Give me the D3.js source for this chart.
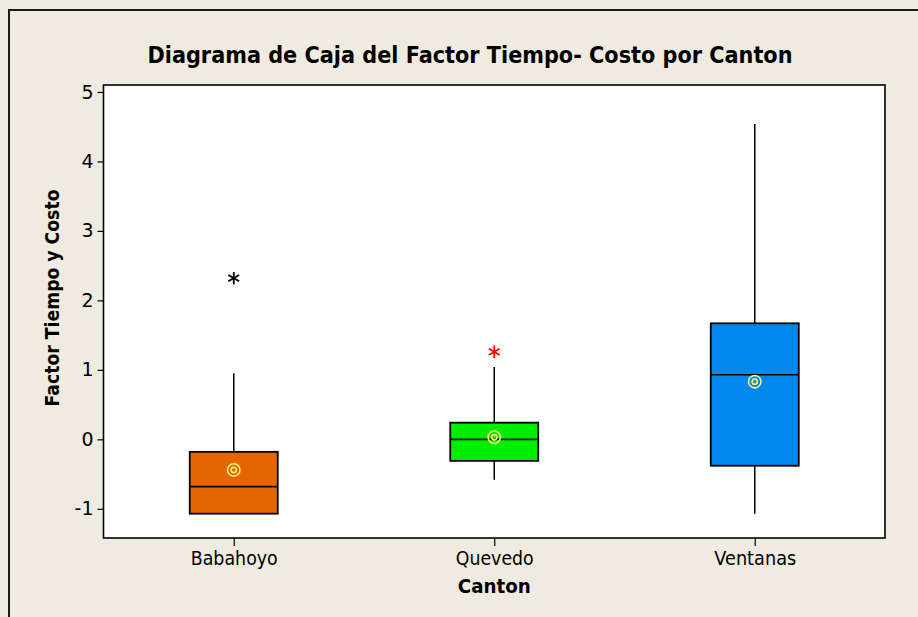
<!DOCTYPE html>
<html>
<head>
<meta charset="utf-8">
<script src="https://cdn.jsdelivr.net/npm/d3@7"></script>
<style>
  html, body { margin: 0; padding: 0; background: #EFEBE1; }
  svg { display: block; }
</style>
</head>
<body>
<svg id="chart" width="918" height="617"></svg>
<script>
// ---- data ----
const categories = ["Babahoyo", "Quevedo", "Ventanas"];
const q1         = [-1.07, -0.31, -0.38];
const median     = [-0.68,  0.00,  0.93];
const q3         = [-0.18,  0.24,  1.67];
const whiskerLow = [-1.07, -0.58, -1.07];
const whiskerHigh= [ 0.95,  1.04,  4.54];
const means      = [-0.44,  0.03,  0.83];
const outliers   = [[2.32], [1.26], []];
const boxColors  = ["#E56600", "#00EE00", "#0088EE"];
const outlierColors = ["#000000", "#FF0000", "#000000"];
const yTicks     = [-1, 0, 1, 2, 3, 4, 5];

const title  = "Diagrama de Caja del Factor Tiempo- Costo por Canton";
const xTitle = "Canton";
const yTitle = "Factor Tiempo y Costo";

// ---- layout ----
const W = 918, H = 617;
const plot = { left: 103.5, top: 85, right: 885, bottom: 538 };
const boxW = 88;

const svg = d3.select("#chart");

// background + outer frame
svg.append("rect").attr("width", W).attr("height", H).attr("fill", "#EFEBE1");
svg.append("path")
  .attr("d", `M9,${H} L9,10 L${W},10`)
  .attr("fill", "none").attr("stroke", "#1a1a1a").attr("stroke-width", 2);

const x = d3.scalePoint().domain(categories).range([plot.left, plot.right]).padding(0.5);
const y = d3.scaleLinear().domain([-1.42, 5.1]).range([plot.bottom, plot.top]);

// plot area
svg.append("rect")
  .attr("x", plot.left).attr("y", plot.top)
  .attr("width", plot.right - plot.left).attr("height", plot.bottom - plot.top)
  .attr("fill", "#ffffff").attr("stroke", "#000").attr("stroke-width", 1.6);

// axes
const font = "'DejaVu Sans', Verdana, sans-serif";
const yAxis = svg.append("g").attr("transform", `translate(${plot.left},0)`)
  .call(d3.axisLeft(y).tickValues(yTicks).tickSize(6).tickPadding(4).tickFormat(d => String(d)));
yAxis.select(".domain").remove();
yAxis.selectAll("line").attr("stroke", "#000").attr("stroke-width", 1.2);
yAxis.selectAll("text").attr("font-family", font).attr("font-size", 19).attr("fill", "#000");

const xAxis = svg.append("g").attr("transform", `translate(0,${plot.bottom})`)
  .call(d3.axisBottom(x).tickSize(8).tickPadding(6));
xAxis.select(".domain").remove();
xAxis.selectAll("line").attr("stroke", "#000").attr("stroke-width", 1.2);
const xLabelW = { "Babahoyo": 87, "Quevedo": 78, "Ventanas": 82 };
xAxis.selectAll("text").attr("font-family", font).attr("font-size", 19).attr("fill", "#000")
  .attr("textLength", d => xLabelW[d]).attr("lengthAdjust", "spacingAndGlyphs");

// titles
svg.append("text")
  .attr("x", 470).attr("y", 63).attr("text-anchor", "middle")
  .attr("font-family", font).attr("font-weight", "bold").attr("font-size", 23)
  .attr("textLength", 645).attr("lengthAdjust", "spacingAndGlyphs")
  .text(title);
svg.append("text")
  .attr("x", (plot.left + plot.right) / 2).attr("y", 593).attr("text-anchor", "middle")
  .attr("font-family", font).attr("font-weight", "bold").attr("font-size", 19)
  .attr("textLength", 73).attr("lengthAdjust", "spacingAndGlyphs")
  .text(xTitle);
svg.append("text")
  .attr("transform", `translate(52,298) rotate(-90)`).attr("text-anchor", "middle")
  .attr("dy", "0.35em")
  .attr("font-family", font).attr("font-weight", "bold").attr("font-size", 19)
  .attr("textLength", 217).attr("lengthAdjust", "spacingAndGlyphs")
  .text(yTitle);

// boxes
const g = svg.append("g");
categories.forEach((c, i) => {
  const cx = x(c);
  // whiskers
  g.append("line").attr("x1", cx).attr("x2", cx)
    .attr("y1", y(q3[i])).attr("y2", y(whiskerHigh[i]))
    .attr("stroke", "#000").attr("stroke-width", 1.5);
  g.append("line").attr("x1", cx).attr("x2", cx)
    .attr("y1", y(q1[i])).attr("y2", y(whiskerLow[i]))
    .attr("stroke", "#000").attr("stroke-width", 1.5);
  // box
  g.append("rect")
    .attr("x", cx - boxW / 2).attr("width", boxW)
    .attr("y", y(q3[i])).attr("height", y(q1[i]) - y(q3[i]))
    .attr("fill", boxColors[i]).attr("stroke", "#000").attr("stroke-width", 1.8);
  // median
  g.append("line").attr("x1", cx - boxW / 2).attr("x2", cx + boxW / 2)
    .attr("y1", y(median[i])).attr("y2", y(median[i]))
    .attr("stroke", "#000").attr("stroke-width", 1.6);
  // mean symbol
  g.append("circle").attr("cx", cx).attr("cy", y(means[i])).attr("r", 6.2)
    .attr("fill", "none").attr("stroke", "#FFF27A").attr("stroke-width", 1.6);
  g.append("circle").attr("cx", cx).attr("cy", y(means[i])).attr("r", 2.6)
    .attr("fill", "none").attr("stroke", "#FFF27A").attr("stroke-width", 1.6);
  // outliers
  outliers[i].forEach(v => {
    g.append("path")
      .attr("transform", `translate(${cx},${y(v)})`)
      .attr("d", d3.symbol(d3.symbolAsterisk, 110)())
      .attr("fill", "none").attr("stroke", outlierColors[i]).attr("stroke-width", 1.8);
  });
});
</script>
</body>
</html>
